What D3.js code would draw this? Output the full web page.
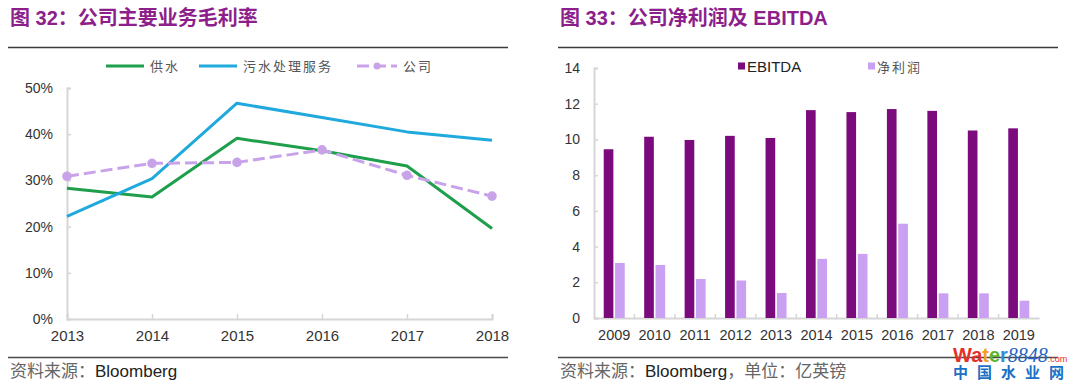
<!DOCTYPE html>
<html><head><meta charset="utf-8">
<script src="https://cdn.jsdelivr.net/npm/d3@7"></script>
<style>
body{margin:0;background:#fff}
svg{display:block}
text{font-family:"Liberation Sans",Arial,"Noto Sans CJK SC",sans-serif}
</style>
</head><body>
<svg id="c" width="1080" height="388"></svg>
<script>
// ---------- data ----------
const lineYears = ["2013","2014","2015","2016","2017","2018"];
const supplyWater = [28.3, 26.4, 39.1, 36.4, 33.1, 19.6];   // 供水
const sewage      = [22.2, 30.4, 46.7, 43.6, 40.5, 38.7];   // 污水处理服务
const company     = [30.9, 33.7, 33.9, 36.6, 31.1, 26.6];   // 公司
const pctTicks    = [0, 10, 20, 30, 40, 50];

const barYears  = ["2009","2010","2011","2012","2013","2014","2015","2016","2017","2018","2019"];
const ebitda    = [9.45, 10.15, 9.97, 10.2, 10.08, 11.64, 11.53, 11.7, 11.6, 10.5, 10.62];
const netProfit = [3.08, 2.97, 2.18, 2.1, 1.4, 3.31, 3.59, 5.28, 1.38, 1.38, 0.97];
const valTicks  = [0, 2, 4, 6, 8, 10, 12, 14];

const lineSeries = [
  {name:"供水", values:supplyWater, color:"#1f9e4c", dash:null, dots:false},
  {name:"污水处理服务", values:sewage, color:"#20a9dc", dash:null, dots:false},
  {name:"公司", values:company, color:"#c9a3ea", dash:"12,5", dots:true}
];
const barSeries = [
  {name:"EBITDA", values:ebitda, color:"#7b0a7d"},
  {name:"净利润", values:netProfit, color:"#c9a0f2"}
];

const svg = d3.select("#c");
const CJK = '"Noto Sans CJK SC",sans-serif';
const titleColor = "#8c1f8c";

// ---------- titles & rules ----------
function header(x0, x1, label){
  svg.append("text").attr("x", x0 + 2).attr("y", 25)
    .attr("font-size", 20).attr("font-weight", "bold").attr("fill", titleColor)
    .text(label);
  svg.append("line").attr("x1", x0).attr("x2", x1).attr("y1", 47.5).attr("y2", 47.5)
    .attr("stroke", "#3a3a3a").attr("stroke-width", 1.5);
}
header(8, 508, "图 32：公司主要业务毛利率");
header(558, 1058, "图 33：公司净利润及 EBITDA");

function footer(x0, x1, src){
  svg.append("line").attr("x1", x0).attr("x2", x1).attr("y1", 357.5).attr("y2", 357.5)
    .attr("stroke", "#4a4a4a").attr("stroke-width", 1.5);
  const t = svg.append("text").attr("x", x0 + 2).attr("y", 377).attr("font-size", 17);
  src.forEach(s => t.append("tspan").attr("fill", s.c).text(s.t));
}
footer(8, 508, [{t:"资料来源：", c:"#666"}, {t:"Bloomberg", c:"#222"}]);
footer(558, 1058, [{t:"资料来源：", c:"#666"}, {t:"Bloomberg", c:"#222"}, {t:"，单位：亿英镑", c:"#666"}]);

// ---------- left: line chart ----------
const xL = d3.scalePoint().domain(lineYears).range([67, 492]);
const yL = d3.scaleLinear().domain([0, 50]).range([319, 88]);
const axisColor = "#d6d6d6";

const gyL = svg.append("g").attr("transform", "translate(67,0)")
  .call(d3.axisLeft(yL).tickValues(pctTicks).tickSize(-4).tickPadding(14).tickFormat(d => d + "%"));
const gxL = svg.append("g").attr("transform", `translate(0,${yL(0)})`)
  .call(d3.axisBottom(xL).tickSize(-5).tickPadding(11));
[gyL, gxL].forEach(g => {
  g.select(".domain").attr("stroke", axisColor).attr("stroke-width", 2);
  g.selectAll(".tick line").attr("stroke", axisColor).attr("stroke-width", 1.5);
  g.selectAll(".tick text").attr("font-size", 14).attr("fill", "#333")
    .attr("font-family", '"Liberation Sans",Arial,sans-serif');
});
gxL.selectAll(".tick text").attr("font-size", 15);
gxL.selectAll(".tick").filter(d => d === lineYears[0]).select("line").remove();

const lineGen = d3.line().x((d, i) => xL(lineYears[i])).y(d => yL(d));
lineSeries.forEach(s => {
  svg.append("path").datum(s.values).attr("d", lineGen)
    .attr("fill", "none").attr("stroke", s.color).attr("stroke-width", 3)
    .attr("stroke-linejoin", "round")
    .attr("stroke-dasharray", s.dash);
  if (s.dots) {
    svg.append("g").selectAll("circle").data(s.values).join("circle")
      .attr("cx", (d, i) => xL(lineYears[i])).attr("cy", d => yL(d))
      .attr("r", 4.8).attr("fill", s.color);
  }
});

// left legend
const legL = [{x:106, w:38}, {x:199, w:38}, {x:357, w:40}];
lineSeries.forEach((s, i) => {
  const L = legL[i], y = 66;
  svg.append("line").attr("x1", L.x).attr("x2", L.x + L.w).attr("y1", y).attr("y2", y)
    .attr("stroke", s.color).attr("stroke-width", 3).attr("stroke-dasharray", s.dash ? "12,5" : null);
  if (s.dots) svg.append("circle").attr("cx", L.x + L.w / 2).attr("cy", y).attr("r", 3.5).attr("fill", s.color);
  svg.append("text").attr("x", L.x + L.w + 6).attr("y", y + 4.5)
    .attr("font-size", 13).attr("fill", "#555").attr("letter-spacing", 2)
    .attr("font-family", CJK).text(s.name);
});

// ---------- right: bar chart ----------
const xR = d3.scaleBand().domain(barYears).range([594, 1039]);
const yR = d3.scaleLinear().domain([0, 14]).range([318, 68]);
const xSub = d3.scaleBand().domain(barSeries.map(s => s.name))
  .range([xR.bandwidth() / 2 - 10.5, xR.bandwidth() / 2 + 10.5]).paddingInner(0.15);

const gyR = svg.append("g").attr("transform", "translate(594,0)")
  .call(d3.axisLeft(yR).tickValues(valTicks).tickSize(-4).tickPadding(14));
const gxR = svg.append("g").attr("transform", `translate(0,${yR(0)})`)
  .call(d3.axisBottom(xR).tickSize(0).tickPadding(12));
[gyR, gxR].forEach(g => {
  g.select(".domain").attr("stroke", axisColor).attr("stroke-width", 2);
  g.selectAll(".tick line").attr("stroke", axisColor).attr("stroke-width", 1.5);
  g.selectAll(".tick text").attr("font-size", 14).attr("fill", "#333")
    .attr("font-family", '"Liberation Sans",Arial,sans-serif');
});
gxR.selectAll(".tick text").attr("font-size", 14.5);
// category separator ticks
svg.append("g").selectAll("line").data(barYears.slice(1)).join("line")
  .attr("x1", d => xR(d)).attr("x2", d => xR(d))
  .attr("y1", yR(0)).attr("y2", yR(0) - 4)
  .attr("stroke", axisColor).attr("stroke-width", 1.5);

barSeries.forEach(s => {
  svg.append("g").selectAll("rect").data(s.values).join("rect")
    .attr("x", (d, i) => xR(barYears[i]) + xSub(s.name))
    .attr("width", xSub.bandwidth())
    .attr("y", d => yR(d))
    .attr("height", d => yR(0) - yR(d))
    .attr("fill", s.color);
});

// right legend
const legR = [738, 868];
barSeries.forEach((s, i) => {
  const x = legR[i], y = 66;
  svg.append("rect").attr("x", x).attr("y", y - 3.5).attr("width", 7).attr("height", 7).attr("fill", s.color);
  const t = svg.append("text").attr("x", x + 9).attr("y", y + 5.5).attr("text-anchor", "start");
  if (i === 0) t.attr("font-size", 15).attr("fill", "#222").text(s.name);
  else t.attr("font-size", 13).attr("fill", "#555").attr("letter-spacing", 2).attr("font-family", CJK).text(s.name);
});

// ---------- watermark ----------
const wm = svg.append("text").attr("x", 953).attr("y", 362).attr("font-size", 20).attr("font-weight", "bold");
[["W","#e52f2a"],["a","#e52f2a"],["t","#f0a21e"],["e","#5cb431"],["r","#2e8fd6"]]
  .forEach(([c, col]) => wm.append("tspan").attr("fill", col).text(c));
wm.append("tspan").attr("fill", "#2563c4").attr("font-weight", "normal").attr("font-style", "italic")
  .attr("font-family", '"Liberation Serif",serif').attr("font-size", 20).text("8848");
wm.append("tspan").attr("fill", "#e52f2a").attr("font-size", 9).attr("font-weight", "normal").text(".com");
svg.append("text").attr("x", 953).attr("y", 378).attr("font-size", 15).attr("font-weight", "bold")
  .attr("fill", "#1b6fc6").attr("letter-spacing", 9).attr("font-family", CJK).text("中国水业网");
</script>
</body></html>
